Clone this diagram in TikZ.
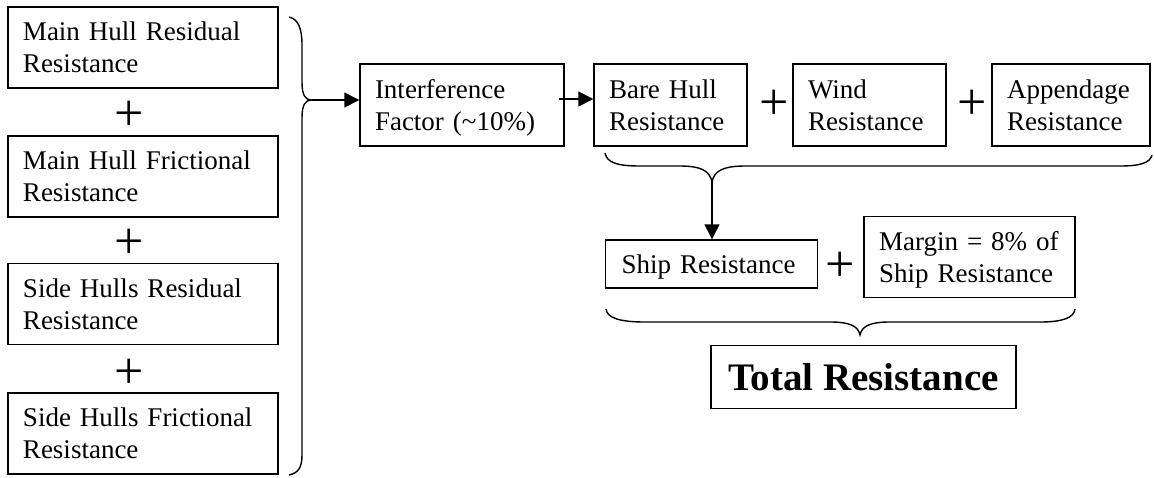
\documentclass[tikz,border=0pt]{standalone}
\usepackage{fontspec}
\setmainfont{Liberation Serif}
\usetikzlibrary{arrows.meta}

\tikzset{
  box/.style={draw, line width=1.4pt, rectangle, inner xsep=15pt, inner ysep=0pt,
    align=left, font=\fontsize{27pt}{32pt}\selectfont, anchor=center,
    text height=18.5pt, text depth=32pt},
  plussign/.style={inner sep=0pt, font=\fontsize{52pt}{52pt}\selectfont, anchor=center},
  bracket/.style={line width=1.4pt},
  arr/.style={line width=1.4pt, -{Triangle[length=15pt,width=15pt]}}
}

\newcommand{\boxat}[6]{% name, x, y, width, height, text
  \node[box, minimum width=#4pt, minimum height=#5pt, text width=#4pt-30pt] (#1) at (#2,#3) {#6};}

\begin{document}
\begin{tikzpicture}[x=1pt, y=-1pt]
  \useasboundingbox (0,0) rectangle (1154,477);

  % hull components
  \boxat{mhr}{143}{47.5}{270}{81}{Main Hull Residual\\Resistance}
  \boxat{mhf}{143}{176.5}{270}{81}{Main Hull Frictional\\Resistance}
  \boxat{shr}{143}{304}{270}{81}{Side Hulls Residual\\Resistance}
  \boxat{shf}{143}{433.5}{270}{81}{Side Hulls Frictional\\Resistance}
  \node[plussign] (p1) at (129,115.5) {+};
  \node[plussign] (p2) at (129,244) {+};
  \node[plussign] (p3) at (129,373.5) {+};

  % brace collecting the hull components
  \coordinate (lb) at (312,100);
  \draw[bracket] (289,17) .. controls (298,19) and (302,28) .. (302,45) -- (302,82)
    .. controls (302,95) and (305,100) .. (lb)
    .. controls (305,100) and (302,105) .. (302,118) -- (302,455)
    .. controls (302,468) and (298,473) .. (289,475);

  % top row
  \boxat{inter}{462}{105}{204}{82}{Interference\\Factor (\textasciitilde10\%)}
  \boxat{bare}{670.5}{105}{153}{82}{Bare Hull\\Resistance}
  \boxat{wind}{869.5}{105}{153}{82}{Wind\\Resistance}
  \boxat{app}{1071}{105}{158}{82}{Appendage\\Resistance}
  \node[plussign] (p4) at (774.5,104.5) {+};
  \node[plussign] (p5) at (972.5,104.5) {+};

  \draw[arr] (lb) -- (lb -| inter.west);
  \draw[arr] ([shift={(-6pt,6pt)}]inter.east) -- ([yshift=6pt]bare.west);

  % brace under the top row
  \coordinate (tb) at (712,182);
  \draw[bracket] (605,153) .. controls (607,163) and (618,166) .. (640,166) -- (680,166)
    .. controls (703,166) and (710,172) .. (tb)
    .. controls (714,172) and (721,166) .. (745,166) -- (1120,166)
    .. controls (1140,166) and (1150,163) .. (1152,155);

  % ship resistance and margin
  \node[box, minimum width=212pt, minimum height=48pt, text width=180pt, inner xsep=16pt,
    text depth=0pt] (ship) at (711.7,264) {Ship Resistance};
  \boxat{margin}{969.5}{257}{211}{81}{Margin = 8\% of\\Ship Resistance}
  \node[plussign] (p6) at (840.5,266.5) {+};

  \draw[arr] (tb) -- (tb |- ship.north);

  % brace under ship resistance and margin
  \coordinate (bb) at (860,335);
  \draw[bracket] (606,309) .. controls (607,318) and (620,322) .. (645,322) -- (830,322)
    .. controls (850,322) and (858,326) .. (bb)
    .. controls (862,326) and (870,322) .. (890,322) -- (1040,322)
    .. controls (1062,322) and (1074,318) .. (1075,309);

  % result
  \node[draw, line width=1.4pt, minimum width=305pt, minimum height=63pt, inner sep=0pt,
    text height=28pt, text depth=0pt,
    font=\bfseries\fontsize{39pt}{44pt}\selectfont] (total) at (863.5,376.7) {Total Resistance};
\end{tikzpicture}
\end{document}
